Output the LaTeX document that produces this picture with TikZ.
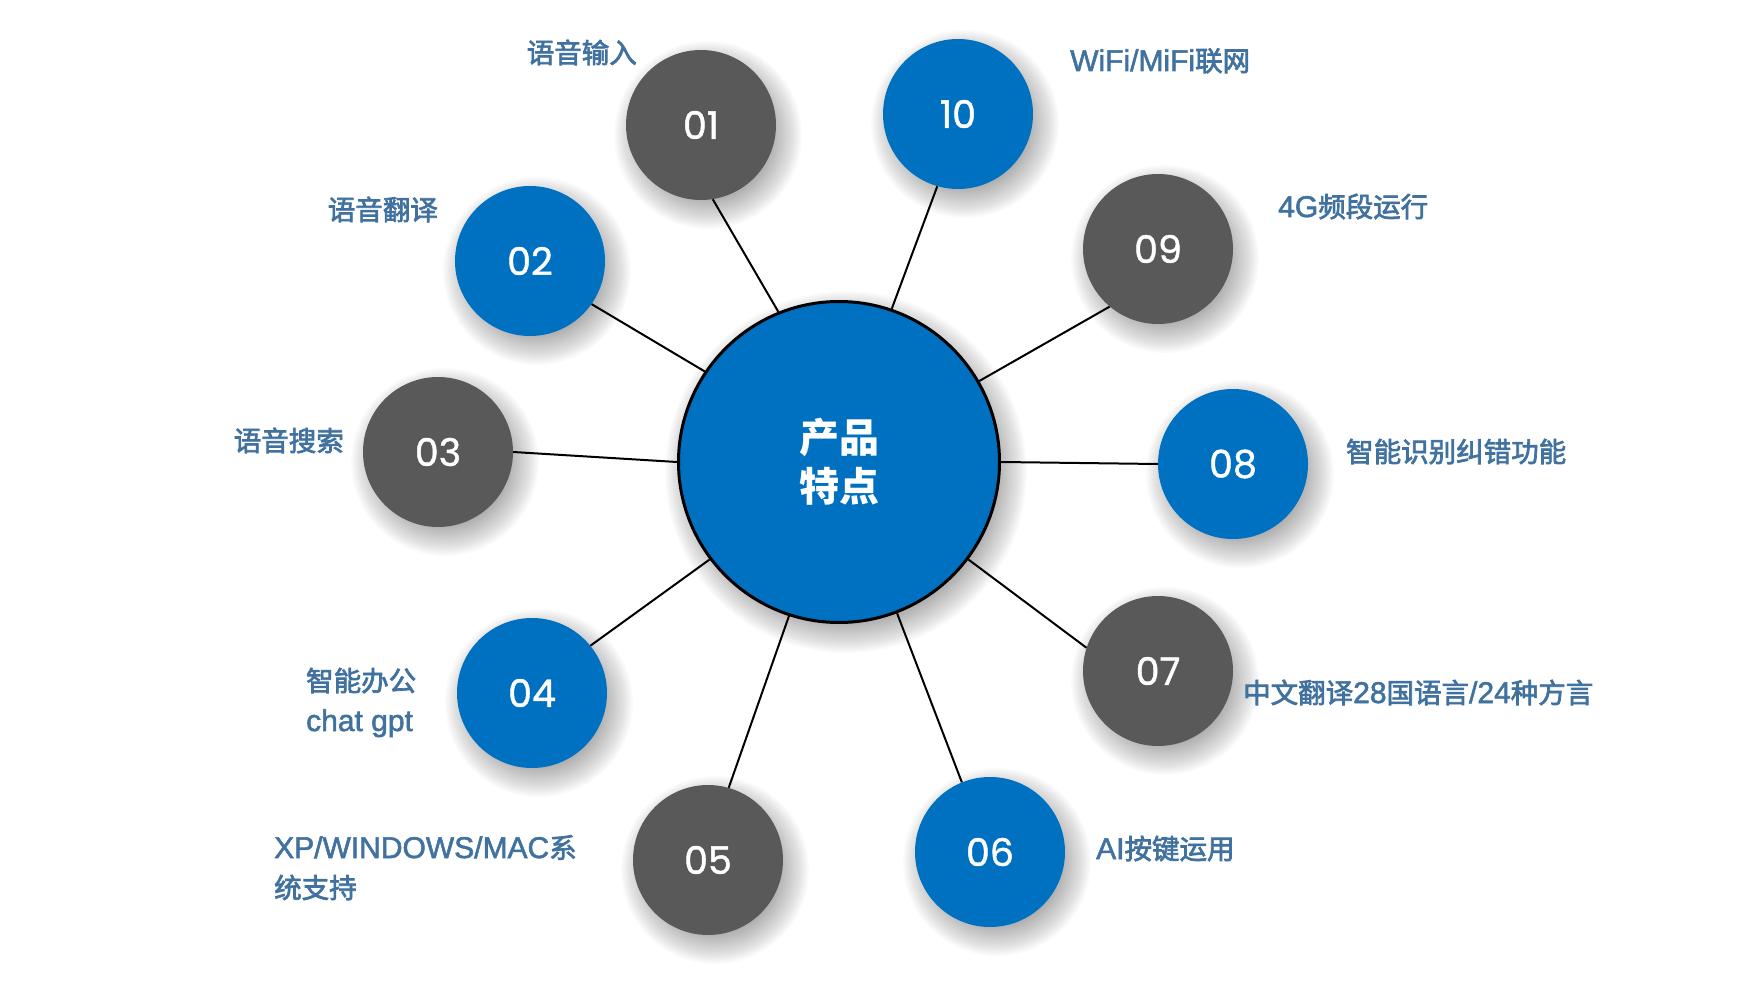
\documentclass[tikz,border=0pt]{standalone}
\usepackage{fontspec}
\newfontfamily\cjk{Noto Sans CJK SC}
\newfontfamily\cjkm{Noto Sans CJK SC}[FakeBold=2.6]
\newfontfamily\lat{Liberation Sans}[FakeBold=1.8]
\newfontfamily\numf{Poppins}[FakeBold=1.2]
\definecolor{bblue}{HTML}{0070C0}
\definecolor{dgray}{HTML}{595959}
\definecolor{labc}{HTML}{41729F}
\newcommand{\mkshadow}[3]{%
  \foreach \k in {0,...,17}{%
    \fill[black,opacity=0.02] ({#1+7},{#2+10}) circle[radius={(#3-10+\k*1.7)*1pt}];
  }}
\tikzset{
  bub/.style={circle, minimum size=150pt, inner sep=0pt, text=white, font=\numf\fontsize{38}{40}\selectfont},
  bluebub/.style={bub, fill=bblue},
  graybub/.style={bub, fill=dgray},
  hub/.style={circle, minimum size=321pt, inner sep=0pt, fill=bblue, draw=black, line width=3pt, text=white, align=center, font=\cjk\bfseries\fontsize{40}{49}\selectfont},
  lab/.style={text=labc, inner sep=0pt, font=\cjkm\fontsize{27.5}{40}\selectfont},
  link/.style={draw=black, line width=2pt}
}
\newcommand{\latw}[1]{{\lat\fontsize{30}{40}\selectfont #1}}
\begin{document}
\begin{tikzpicture}[x=1pt,y=-1pt]
\useasboundingbox (0,0) rectangle (1762,1000);
% shadows
\mkshadow{839}{462}{162}
\mkshadow{701}{125}{75}
\mkshadow{530}{261}{75}
\mkshadow{438}{452}{75}
\mkshadow{532}{693}{75}
\mkshadow{708}{860}{75}
\mkshadow{990}{852}{75}
\mkshadow{1158}{671}{75}
\mkshadow{1233}{464}{75}
\mkshadow{1158}{249}{75}
\mkshadow{958}{114}{75}
% nodes
\node[hub] (c) at (839,462) {产品\\特点};
\node[graybub] (n01) at (701,125) {01};
\node[bluebub] (n02) at (530,261) {02};
\node[graybub] (n03) at (438,452) {03};
\node[bluebub] (n04) at (532,693) {04};
\node[graybub] (n05) at (708,860) {05};
\node[bluebub] (n06) at (990,852) {06};
\node[graybub] (n07) at (1158,671) {07};
\node[bluebub] (n08) at (1233,464) {08};
\node[graybub] (n09) at (1158,249) {09};
\node[bluebub] (n10) at (958,114) {10};
% links
\draw[link] (c.112.8) -- (n01.-81);
\draw[link] (c.146.7) -- (n02.-35);
\draw[link] (c.180) -- (n03.0);
\draw[link] (c.217.4) -- (n04.39);
\draw[link] (c.-108.5) -- (n05.74);
\draw[link] (c.-69.3) -- (n06.112.5);
\draw[link] (c.-37.4) -- (n07.162.6);
\draw[link] (c.0) -- (n08.180);
\draw[link] (c.30.6) -- (n09.230.4);
\draw[link] (c.71.9) -- (n10.254.6);
% labels
\node[lab, anchor=base east] (t01) at (637,63) {语音输入};
\node[lab, anchor=base east] (t02) at (438,220) {语音翻译};
\node[lab, anchor=base east] (t03) at (344,451) {语音搜索};
\node[lab, anchor=base west, align=left] (t04) at (306,731) {智能办公\\\latw{chat gpt}};
\node[lab, anchor=base west, align=left] (t05) at (274,898) {\latw{XP/WINDOWS/MAC}系\\统支持};
\node[lab, anchor=base west] (t06) at (1096,859) {\latw{AI}按键运用};
\node[lab, anchor=base west] (t07) at (1243,703) {中文翻译\latw{28}国语言\latw{/24}种方言};
\node[lab, anchor=base west] (t08) at (1346,462) {智能识别纠错功能};
\node[lab, anchor=base west] (t09) at (1278,217) {\latw{4G}频段运行};
\node[lab, anchor=base west] (t10) at (1070,71) {\latw{WiFi/MiFi}联网};
\end{tikzpicture}
\end{document}
